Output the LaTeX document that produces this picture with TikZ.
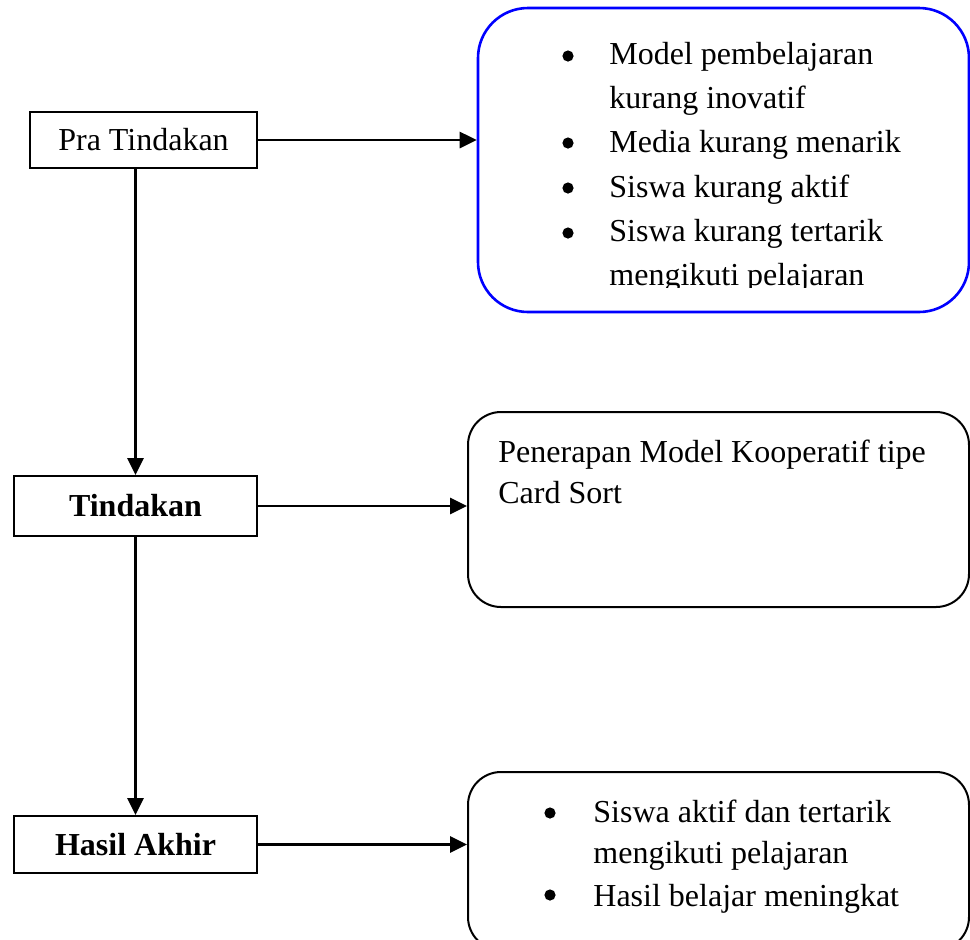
\documentclass[tikz,border=0pt]{standalone}
\usepackage{fontspec}
\setmainfont{Liberation Serif}
\usetikzlibrary{arrows.meta}
\definecolor{biru}{RGB}{0,0,255}

\tikzset{
    kotak/.style={draw, line width=1pt, minimum width=121.5pt, inner sep=0pt},
    kotakbulat/.style={draw, line width=1pt, rounded corners=16.5pt, minimum width=250.5pt, inner sep=0pt},
    panah/.style={-{Triangle[length=8.5pt,width=8pt]}, line width=1.4pt},
    butir/.style={anchor=base west, inner sep=0pt},
}

\begin{document}
\begin{tikzpicture}[x=0.5pt, y=-0.5pt, font=\fontsize{16}{19}\selectfont]
    \useasboundingbox (0,0) rectangle (970,939);
    % kotak kiri
    \node[kotak, minimum width=113.5pt, minimum height=28pt] (pra) at (143.5,140) {Pra Tindakan};
    \node[kotak, minimum height=30pt] (tindakan) at (135.5,506) {\textbf{Tindakan}};
    \node[kotak, minimum height=28.5pt] (hasil) at (135.5,844.5) {\textbf{Hasil Akhir}};
    % kotak kanan
    \node[kotakbulat, draw=biru, line width=1.3pt, rounded corners=25pt, minimum width=245.5pt, minimum height=152pt] (masalah) at (723.5,160) {};
    \node[kotakbulat, minimum height=97.5pt] (terapan) at (718.5,509.5) {};
    \node[kotakbulat, minimum height=89pt] (capaian) at (718.5,861) {};
    % panah
    \draw[panah] (pra.east) -- (pra.east -| masalah.west);
    \draw[panah] (tindakan.east) -- (tindakan.east -| terapan.west);
    \draw[panah] (hasil.east) -- (hasil.east -| capaian.west);
    \draw[panah] (pra.south -| tindakan.north) -- (tindakan.north);
    \draw[panah] (tindakan.south) -- (hasil.north);
    % isi kotak masalah
    \begin{scope}
        \clip (478,0) rectangle (969,287);
        \foreach \y/\teks [count=\i] in {64/Model pembelajaran, 108/kurang inovatif, 152/Media kurang menarik, 197/Siswa kurang aktif, 241/Siswa kurang tertarik, 285/mengikuti pelajaran}
            \node[butir] (masalah\i) at (609,\y) {\teks};
    \end{scope}
    \foreach \y in {56,143,188,233}
        \fill (568,\y) circle (2.8pt);
    % isi kotak tindakan
    \node[butir] (terapan1) at (498,462) {Penerapan Model Kooperatif tipe};
    \node[butir] (terapan2) at (498,503) {Card Sort};
    % isi kotak hasil
    \foreach \y/\teks [count=\i] in {822/Siswa aktif dan tertarik, 863/mengikuti pelajaran, 906/Hasil belajar meningkat}
        \node[butir] (capaian\i) at (593,\y) {\teks};
    \foreach \y in {813,895}
        \fill (550,\y) circle (2.8pt);
\end{tikzpicture}
\end{document}
